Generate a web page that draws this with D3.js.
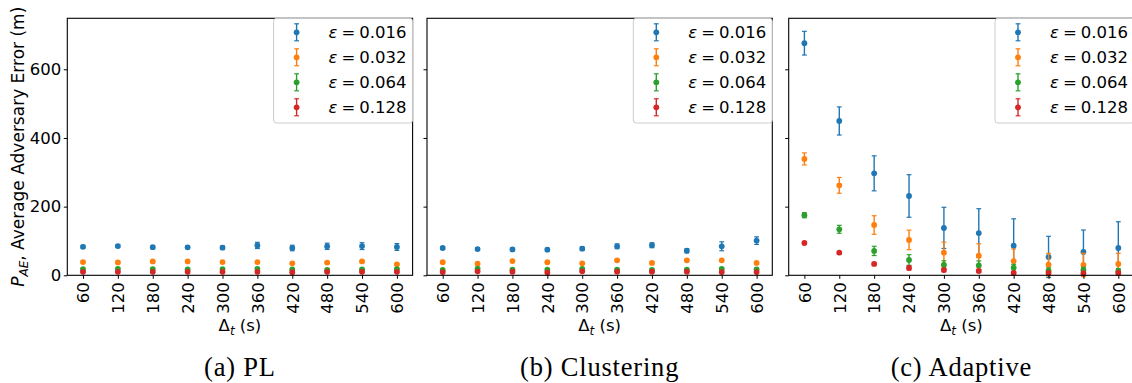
<!DOCTYPE html>
<html>
<head>
<meta charset="utf-8">
<script src="https://cdn.jsdelivr.net/npm/d3@7"></script>
<style>
  html, body { margin: 0; padding: 0; background: #ffffff; }
  svg { display: block; }
</style>
</head>
<body>
<svg id="chart" width="1132" height="383"></svg>
<script>
// Sampling interval categories (seconds)
const categories = ["60", "120", "180", "240", "300", "360", "420", "480", "540", "600"];
// Privacy budgets, one series each
const epsilons = ["0.016", "0.032", "0.064", "0.128"];
const colors = ["#1f77b4", "#ff7f0e", "#2ca02c", "#d62728"];
const yTicks = [0, 200, 400, 600];

// (a) PL — mean error and error-bar half-width per epsilon
const plMean = [
  [83, 85, 82, 81.5, 80.5, 87, 79.5, 84.5, 85, 82.5],
  [38.5, 37.5, 40.5, 40.5, 38.5, 38.5, 35, 37, 40.5, 32],
  [18, 19, 18, 17, 18, 19, 17, 16, 17, 18],
  [10, 10, 10, 10, 10, 10, 9, 10, 10, 10]
];
const plErr = [
  [4, 4, 4, 4, 5, 9, 8, 9, 10, 10],
  [3, 3, 3, 3, 3, 3, 3, 3, 3, 3],
  [3, 3, 3, 3, 3, 3, 3, 3, 3, 3],
  [2, 2, 2, 2, 2, 2, 2, 2, 2, 2]
];

// (b) Clustering
const clusterMean = [
  [79.5, 76.5, 75.5, 74.5, 77.5, 84.5, 87.5, 71.5, 84.5, 101],
  [38, 34, 41.5, 38, 35, 43.5, 36, 43.5, 43.5, 36],
  [15.5, 19.5, 16.5, 16.5, 18.5, 16.5, 15.5, 16.5, 18.5, 17.5],
  [9.5, 11.5, 10.5, 8.5, 11.5, 10.5, 10.5, 10.5, 9.5, 9.5]
];
const clusterErr = [
  [4, 4, 4, 4, 5, 7, 7, 6, 13, 11],
  [3, 3, 3, 3, 3, 3, 3, 3, 3, 3],
  [3, 3, 3, 3, 3, 3, 3, 3, 3, 3],
  [2, 2, 2, 2, 2, 2, 2, 2, 2, 2]
];

// (c) Adaptive
const adaptiveMean = [
  [676, 449.5, 297, 231, 138, 123, 86, 53.5, 68, 79.5],
  [339, 262, 146.5, 103, 66, 57, 41.5, 31, 30, 33],
  [175, 134, 71, 44.5, 30, 29, 22, 13.5, 15.5, 12.5],
  [94, 66, 33, 21.5, 15.5, 12.5, 7, 7, 6, 7]
];
const adaptiveErr = [
  [34.5, 41, 51, 62, 60, 71, 78.5, 60, 64, 76.5],
  [17.5, 23, 27, 28.5, 30.5, 35, 35, 33, 34, 31],
  [7.5, 11.5, 13.5, 15.5, 12.5, 13, 10, 8, 8, 7],
  [3, 3, 4, 6, 5, 4, 4, 4, 4, 4]
];

const panels = [
  { left: 67.3,  caption: "(a) PL",         mean: plMean,       err: plErr,       labels: true },
  { left: 427,   caption: "(b) Clustering", mean: clusterMean,  err: clusterErr,  labels: false },
  { left: 788.7, caption: "(c) Adaptive",   mean: adaptiveMean, err: adaptiveErr, labels: false }
];

const W = 345.3, plotTop = 18.3, plotBottom = 275.3;
const sansFont = "'DejaVu Sans', sans-serif";
const fontSize = 16.5;
const svg = d3.select("#chart");

const y = d3.scaleLinear().domain([0, 748.5]).range([plotBottom, plotTop]);

panels.forEach(p => {
  const x = d3.scalePoint().domain(categories).range([p.left, p.left + W]).padding(0.45);
  const g = svg.append("g");

  // error bars and markers, one series after another
  p.mean.forEach((vals, si) => {
    const s = g.append("g").attr("stroke", colors[si]).attr("fill", colors[si]);
    vals.forEach((v, i) => {
      const cx = x(categories[i]);
      const e = p.err[si][i];
      s.append("line").attr("x1", cx).attr("x2", cx)
        .attr("y1", y(v - e)).attr("y2", y(v + e)).attr("stroke-width", 1.4);
      [v - e, v + e].forEach(c => {
        s.append("line").attr("x1", cx - 2.4).attr("x2", cx + 2.4)
          .attr("y1", y(c)).attr("y2", y(c)).attr("stroke-width", 1.2);
      });
      s.append("circle").attr("cx", cx).attr("cy", y(v)).attr("r", 2.9).attr("stroke", "none");
    });
  });

  // axes
  const xAxis = d3.axisBottom(x).tickSize(3.5).tickSizeOuter(0);
  const xg = g.append("g").attr("transform", `translate(0,${plotBottom})`).call(xAxis);
  xg.select(".domain").remove();
  xg.selectAll("line").attr("stroke", "#000").attr("stroke-width", 1);
  xg.selectAll("text")
    .attr("font-family", sansFont).attr("font-size", fontSize).attr("fill", "#000")
    .attr("text-anchor", "end").attr("dy", "0.35em")
    .attr("transform", "translate(0,7) rotate(-90)")
    .attr("x", 0).attr("y", 0);

  const yAxis = d3.axisLeft(y).tickValues(yTicks).tickSize(3.5).tickSizeOuter(0).tickPadding(2.5)
    .tickFormat(p.labels ? d3.format("d") : () => "");
  const yg = g.append("g").attr("transform", `translate(${p.left},0)`).call(yAxis);
  yg.select(".domain").remove();
  yg.selectAll("line").attr("stroke", "#000").attr("stroke-width", 1);
  yg.selectAll("text").attr("font-family", sansFont).attr("font-size", fontSize).attr("fill", "#000");

  // frame
  g.append("rect").attr("x", p.left).attr("y", plotTop).attr("width", W).attr("height", plotBottom - plotTop)
    .attr("fill", "none").attr("stroke", "#000").attr("stroke-width", 1.1);

  // legend, anchored to the upper-right corner of the axes
  const lw = 139, lh = 104.7;
  const lx = p.left + W - lw, ly = plotTop;
  const lg = g.append("g");
  lg.append("rect").attr("x", lx).attr("y", ly).attr("width", lw).attr("height", lh)
    .attr("rx", 3).attr("fill", "#fff").attr("fill-opacity", 0.8)
    .attr("stroke", "#cccccc").attr("stroke-width", 1);
  epsilons.forEach((eps, si) => {
    const ry = ly + 14 + si * 25;
    const mx = lx + 23;
    const item = lg.append("g").attr("stroke", colors[si]).attr("fill", colors[si]);
    item.append("line").attr("x1", mx).attr("x2", mx).attr("y1", ry - 8.5).attr("y2", ry + 8.5).attr("stroke-width", 1.4);
    [ry - 8.5, ry + 8.5].forEach(cy => item.append("line").attr("x1", mx - 2.4).attr("x2", mx + 2.4)
      .attr("y1", cy).attr("y2", cy).attr("stroke-width", 1.2));
    item.append("circle").attr("cx", mx).attr("cy", ry).attr("r", 2.9).attr("stroke", "none");
    const t = lg.append("text").attr("x", lx + 55).attr("y", ry + 6)
      .attr("font-family", sansFont).attr("font-size", fontSize).attr("fill", "#000");
    t.append("tspan").attr("font-style", "italic").text("ε");
    t.append("tspan").attr("dx", 4).text("=");
    t.append("tspan").attr("dx", 4).text(eps);
  });

  // x-axis title
  const cx = p.left + W / 2;
  const xt = svg.append("text").attr("x", cx).attr("y", 331).attr("text-anchor", "middle")
    .attr("font-family", sansFont).attr("font-size", fontSize).attr("fill", "#000");
  xt.append("tspan").text("Δ");
  xt.append("tspan").attr("font-style", "italic").attr("font-size", 12).attr("dy", 3.5).text("t");
  xt.append("tspan").attr("dy", -3.5).text(" (s)");

  // panel caption
  svg.append("text").attr("x", cx).attr("y", 376).attr("text-anchor", "middle")
    .attr("font-family", "'Liberation Serif', serif").attr("font-size", 26.5)
    .attr("letter-spacing", 0.8).attr("fill", "#000")
    .text(p.caption);
});

// shared y-axis title
const yt = svg.append("text").attr("transform", `translate(24,${(plotTop + plotBottom) / 2}) rotate(-90)`)
  .attr("text-anchor", "middle").attr("font-family", sansFont).attr("font-size", 17).attr("fill", "#000");
yt.append("tspan").attr("font-style", "italic").text("P");
yt.append("tspan").attr("font-style", "italic").attr("font-size", 12).attr("dy", 4).text("AE");
yt.append("tspan").attr("dy", -4).text(", Average Adversary Error (m)");
</script>
</body>
</html>
